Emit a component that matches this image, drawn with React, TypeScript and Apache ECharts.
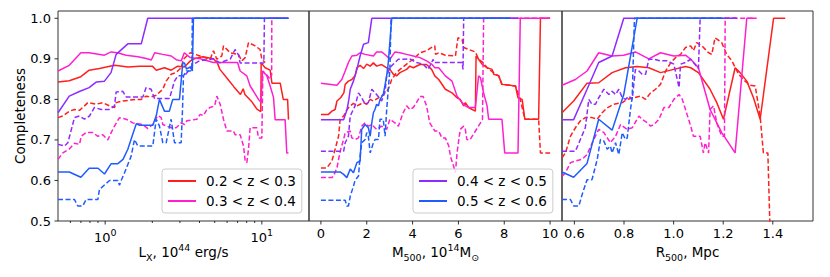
import React, { useEffect, useRef } from 'react';
import * as echarts from 'echarts';

// ---------- labels / ticks ----------
const Z_BINS = ['0.2 < z < 0.3', '0.3 < z < 0.4', '0.4 < z < 0.5', '0.5 < z < 0.6'];
const COLORS = ['#ff1f1f', '#ff1fcf', '#8f2bff', '#1f5cff'];
const Y_TICKS = [0.5, 0.6, 0.7, 0.8, 0.9, 1.0];
const LX_MAJOR_TICKS = [1, 10];
const LX_MINOR_TICKS = [0.6, 0.7, 0.8, 0.9, 2, 3, 4, 5, 6, 7, 8, 9];
const M_TICKS = [0, 2, 4, 6, 8, 10];
const R_TICKS = [0.6, 0.8, 1.0, 1.2, 1.4];

// ---------- panel 1 : L_X ----------
const LX_RED_SOLID = [[0.5,0.843],[0.59,0.846],[0.7,0.856],[0.79,0.872],[0.92,0.876],[1.0,0.879],[1.15,0.884],[1.4,0.88],[1.66,0.882],[2.0,0.882],[2.12,0.872],[2.39,0.878],[2.64,0.872],[2.9,0.882],[3.2,0.88],[3.5,0.895],[3.7,0.9],[4.2,0.905],[4.9,0.9],[5.2,0.89],[5.4,0.874],[6.0,0.852],[6.6,0.832],[7.3,0.812],[7.6,0.826],[7.8,0.812],[8.6,0.795],[9.3,0.776],[9.85,0.77],[9.9,0.89],[10.5,0.878],[11.3,0.872],[11.6,0.84],[13.1,0.84],[13.7,0.8],[14.6,0.8],[14.8,0.75]];
const LX_RED_DASHED = [[0.5,0.755],[0.537,0.759],[0.592,0.771],[0.637,0.775],[0.686,0.773],[0.738,0.784],[0.775,0.792],[0.876,0.788],[0.966,0.792],[1.066,0.784],[1.147,0.78],[1.175,0.792],[1.296,0.796],[1.43,0.798],[1.577,0.8],[1.697,0.8],[1.826,0.808],[1.966,0.806],[2.116,0.81],[2.333,0.825],[2.451,0.845],[2.637,0.862],[2.839,0.866],[3.055,0.878],[3.16,0.899],[3.49,0.915],[4.04,0.907],[4.68,0.899],[4.91,0.92],[5.16,0.899],[5.55,0.907],[5.69,0.932],[6.28,0.915],[7.09,0.911],[7.45,0.895],[7.83,0.903],[8.22,0.94],[9.06,0.932],[9.75,0.923],[10.0,0.899],[10.5,0.891]];
const LX_MAG_SOLID = [[0.5,0.87],[0.59,0.884],[0.7,0.915],[0.79,0.915],[0.99,0.909],[1.09,0.917],[1.2,0.915],[1.36,0.909],[1.62,0.905],[1.83,0.901],[1.97,0.897],[2.07,0.915],[2.33,0.911],[2.64,0.907],[2.84,0.898],[3.06,0.895],[3.2,0.915],[3.49,0.903],[4.04,0.9],[4.91,0.891],[7.0,0.891],[7.27,0.87],[8.02,0.858],[8.42,0.833],[8.85,0.82],[9.52,0.8],[9.9,0.792],[10.1,0.87],[10.76,0.858],[11.3,0.833],[11.87,0.805],[12.16,0.75],[14.08,0.75],[14.43,0.668],[14.79,0.668]];
const LX_MAG_DASHED = [[0.5,0.652],[0.537,0.668],[0.592,0.678],[0.637,0.692],[0.686,0.689],[0.703,0.709],[0.756,0.718],[0.834,0.718],[0.898,0.709],[0.966,0.713],[1.04,0.7],[1.092,0.718],[1.147,0.734],[1.234,0.755],[1.361,0.751],[1.502,0.742],[1.74,0.738],[1.872,0.728],[2.015,0.738],[2.168,0.76],[2.278,0.755],[2.333,0.738],[2.637,0.73],[2.839,0.73],[3.055,0.742],[3.209,0.738],[3.32,0.747],[3.85,0.751],[4.04,0.763],[4.24,0.76],[4.46,0.775],[4.68,0.78],[5.0,0.784],[5.16,0.808],[5.42,0.788],[5.69,0.751],[5.98,0.722],[6.59,0.722],[6.75,0.713],[7.27,0.713],[7.64,0.685],[7.83,0.648],[8.02,0.644],[8.22,0.677],[8.42,0.73],[9.29,0.73],[9.52,0.705],[10.0,0.705],[10.15,0.87],[10.76,0.86],[11.3,0.85],[11.55,0.86],[11.58,1.0],[14.79,1.0]];
const LX_PUR_SOLID = [[0.5,0.767],[0.59,0.808],[0.69,0.82],[0.79,0.829],[0.88,0.843],[0.99,0.845],[1.09,0.866],[1.175,0.911],[1.395,0.937],[1.7,0.937],[1.87,1.0],[14.79,1.0]];
const LX_PUR_DASHED = [[0.5,0.689],[0.55,0.685],[0.578,0.693],[0.637,0.755],[0.686,0.759],[0.738,0.751],[0.794,0.759],[0.855,0.78],[0.943,0.775],[1.066,0.775],[1.147,0.784],[1.175,0.818],[1.296,0.82],[1.361,0.806],[1.74,0.806],[1.826,0.829],[1.966,0.825],[2.065,0.802],[2.574,0.802],[2.77,0.845],[2.909,0.858],[3.209,0.858],[3.4,0.87],[3.6,0.885],[4.0,0.895],[4.9,0.9],[5.4,0.89],[6.3,0.9],[6.75,0.923],[7.09,0.91],[7.27,0.89],[10.3,0.89],[10.39,1.0],[14.79,1.0]];
const LX_BLUE_SOLID = [[0.5,0.621],[0.59,0.621],[0.7,0.608],[0.79,0.63],[0.9,0.63],[0.99,0.616],[1.09,0.641],[1.2,0.641],[1.3,0.652],[1.395,0.677],[1.5,0.714],[1.58,0.74],[1.66,0.736],[2.015,0.736],[2.12,0.76],[2.22,0.8],[2.39,0.771],[2.57,0.771],[2.7,0.8],[2.98,0.8],[3.13,0.89],[3.21,0.89],[3.3,0.875],[3.5,0.88],[3.6,0.87],[3.66,1.0],[14.79,1.0]];
const LX_BLUE_DASHED = [[0.5,0.553],[0.637,0.553],[0.669,0.537],[0.72,0.537],[0.756,0.553],[0.898,0.553],[0.92,0.578],[1.066,0.6],[1.205,0.6],[1.234,0.588],[1.265,0.6],[1.329,0.619],[1.465,0.66],[1.539,0.701],[1.616,0.685],[2.015,0.685],[2.116,0.751],[2.222,0.734],[2.333,0.693],[2.451,0.693],[2.637,0.751],[2.77,0.693],[3.055,0.693],[3.12,0.78],[3.16,0.858],[3.3,0.87],[3.5,0.87],[3.58,0.88],[3.6,1.0],[10.0,1.0]];

// ---------- panel 2 : M500 ----------
const M_RED_SOLID = [[0,0.763],[0.33,0.763],[0.48,0.771],[0.62,0.775],[0.7,0.796],[0.86,0.804],[1.0,0.816],[1.06,0.837],[1.2,0.845],[1.35,0.849],[1.49,0.858],[1.57,0.878],[1.71,0.884],[1.86,0.876],[2.0,0.887],[2.15,0.882],[2.29,0.89],[2.43,0.882],[2.65,0.886],[2.87,0.878],[3.01,0.874],[3.16,0.862],[3.3,0.858],[3.45,0.866],[3.74,0.874],[3.88,0.882],[4.03,0.878],[4.32,0.886],[4.61,0.886],[4.83,0.874],[4.97,0.858],[5.14,0.849],[5.43,0.825],[5.72,0.816],[5.94,0.804],[6.08,0.8],[6.23,0.784],[6.3,0.792],[6.45,0.78],[6.6,0.775],[6.74,0.771],[6.77,0.907],[6.88,0.899],[7.03,0.887],[7.25,0.878],[7.47,0.874],[7.54,0.862],[7.76,0.858],[7.9,0.837],[8.49,0.833],[8.6,0.804],[8.78,0.8],[8.9,0.751],[9.5,0.751],[9.58,1.0],[10.0,1.0]];
const M_RED_DASHED = [[0,0.631],[0.26,0.631],[0.48,0.648],[0.62,0.677],[0.77,0.709],[0.84,0.751],[0.99,0.759],[1.14,0.775],[1.28,0.784],[1.42,0.79],[1.57,0.784],[1.71,0.788],[1.86,0.792],[2.0,0.788],[2.15,0.8],[2.29,0.796],[2.51,0.804],[2.72,0.812],[2.94,0.825],[3.09,0.849],[3.3,0.866],[3.45,0.874],[3.74,0.887],[4.03,0.899],[4.32,0.915],[4.61,0.92],[4.83,0.928],[4.97,0.932],[5.0,0.911],[5.14,0.915],[5.43,0.909],[5.87,0.907],[5.98,0.952],[6.16,0.948],[6.23,0.928],[6.45,0.923],[6.74,0.917],[6.88,0.899],[7.1,0.89],[7.25,0.878],[7.54,0.866],[7.76,0.858],[7.9,0.837],[8.49,0.833],[8.7,0.8],[8.9,0.751],[9.5,0.751],[9.58,0.668],[10.0,0.668]];
const M_MAG_SOLID = [[0,0.84],[0.7,0.835],[0.91,0.849],[1.06,0.87],[1.2,0.891],[1.35,0.907],[1.57,0.909],[1.71,0.915],[1.93,0.911],[2.29,0.907],[2.43,0.917],[2.65,0.917],[2.87,0.907],[3.01,0.899],[3.23,0.917],[3.45,0.915],[3.74,0.911],[4.03,0.907],[4.32,0.903],[4.61,0.895],[4.83,0.887],[4.97,0.878],[5.14,0.878],[5.43,0.858],[5.72,0.845],[5.94,0.808],[6.16,0.792],[6.3,0.784],[6.45,0.78],[6.74,0.78],[6.88,0.858],[6.96,0.854],[7.1,0.816],[7.25,0.784],[7.32,0.751],[7.9,0.751],[8.02,0.668],[8.6,0.668],[8.7,1.0],[10.0,1.0]];
const M_MAG_DASHED = [[0,0.607],[0.48,0.607],[0.55,0.611],[0.7,0.631],[0.84,0.672],[0.99,0.701],[1.06,0.718],[1.28,0.722],[1.35,0.705],[1.49,0.701],[1.64,0.705],[1.78,0.734],[1.93,0.742],[2.07,0.734],[2.22,0.738],[2.43,0.726],[2.65,0.734],[2.87,0.726],[3.01,0.751],[3.23,0.742],[3.38,0.734],[3.59,0.767],[3.74,0.784],[3.88,0.775],[4.03,0.78],[4.17,0.792],[4.32,0.807],[4.46,0.807],[4.61,0.784],[4.75,0.742],[4.97,0.722],[5.14,0.722],[5.28,0.705],[5.43,0.705],[5.58,0.685],[5.65,0.66],[5.79,0.635],[5.87,0.619],[5.94,0.668],[6.08,0.726],[6.23,0.734],[6.3,0.726],[6.37,0.701],[6.5,0.7],[7.05,0.75],[7.1,1.0],[10.0,1.0]];
const M_PUR_SOLID = [[0,0.75],[0.99,0.75],[1.14,0.775],[1.22,0.8],[1.28,0.825],[1.42,0.845],[1.57,0.874],[1.71,0.907],[1.86,0.936],[2.07,0.94],[2.22,1.0],[8.6,1.0]];
const M_PUR_DASHED = [[0,0.672],[0.99,0.672],[1.06,0.693],[1.2,0.709],[1.28,0.759],[1.49,0.784],[1.64,0.816],[1.78,0.804],[1.93,0.788],[2.07,0.792],[2.22,0.825],[2.43,0.812],[2.65,0.796],[2.8,0.82],[2.87,0.858],[3.01,0.878],[3.16,0.887],[3.38,0.899],[3.59,0.899],[3.88,0.9],[4.17,0.891],[4.46,0.887],[4.68,0.874],[4.9,0.899],[4.92,0.891],[6.16,0.891],[6.2,0.874],[6.23,1.0],[8.6,1.0]];
const M_BLUE_SOLID = [[0,0.621],[0.84,0.621],[0.99,0.615],[1.13,0.607],[1.28,0.628],[1.42,0.619],[1.57,0.644],[1.71,0.648],[1.78,0.726],[1.93,0.738],[2.07,0.73],[2.15,0.709],[2.22,0.742],[2.29,0.767],[2.36,0.775],[2.43,0.788],[2.51,0.784],[2.58,0.8],[2.72,0.812],[2.87,0.858],[2.94,0.891],[3.09,1.0],[8.25,1.0]];
const M_BLUE_DASHED = [[0,0.551],[1.06,0.551],[1.13,0.537],[1.2,0.537],[1.28,0.561],[1.42,0.586],[1.49,0.6],[1.64,0.611],[1.71,0.66],[1.78,0.693],[1.93,0.701],[2.0,0.718],[2.07,0.709],[2.15,0.668],[2.29,0.693],[2.36,0.701],[2.51,0.701],[2.58,0.751],[2.72,0.751],[2.8,0.709],[2.87,0.775],[2.94,0.825],[3.01,0.874],[3.06,1.0],[8.25,1.0]];

// ---------- panel 3 : R500 ----------
const R_RED_SOLID = [[0.55,0.767],[0.597,0.796],[0.651,0.84],[0.698,0.841],[0.752,0.866],[0.806,0.878],[0.853,0.881],[0.9,0.878],[0.947,0.866],[1.001,0.874],[1.048,0.881],[1.069,0.878],[1.1,0.866],[1.147,0.825],[1.174,0.792],[1.201,0.751],[1.248,0.878],[1.268,0.866],[1.295,0.845],[1.322,0.804],[1.349,0.751],[1.403,1.0],[1.45,1.0]];
const R_RED_DASHED = [[0.55,0.656],[0.564,0.668],[0.584,0.709],[0.604,0.73],[0.624,0.747],[0.644,0.755],[0.671,0.755],[0.692,0.751],[0.712,0.767],[0.732,0.779],[0.759,0.788],[0.793,0.792],[0.813,0.8],[0.84,0.804],[0.867,0.808],[0.887,0.8],[0.907,0.816],[0.927,0.825],[0.947,0.837],[0.968,0.87],[0.988,0.89],[1.008,0.903],[1.028,0.911],[1.048,0.928],[1.069,0.932],[1.08,0.92],[1.093,0.94],[1.114,0.932],[1.141,0.915],[1.154,0.911],[1.167,0.952],[1.194,0.94],[1.214,0.911],[1.235,0.895],[1.262,0.862],[1.288,0.845],[1.309,0.835],[1.329,0.833],[1.349,0.758],[1.362,0.668],[1.38,0.668],[1.39,0.45]];
const R_MAG_SOLID = [[0.55,0.835],[0.604,0.849],[0.651,0.87],[0.698,0.915],[0.752,0.907],[0.799,0.909],[0.846,0.917],[0.9,0.9],[0.947,0.915],[1.001,0.907],[1.048,0.909],[1.069,0.899],[1.1,0.878],[1.147,0.775],[1.194,0.718],[1.248,0.668],[1.295,1.0],[1.335,1.0]];
const R_MAG_DASHED = [[0.55,0.61],[0.564,0.619],[0.584,0.644],[0.604,0.648],[0.631,0.652],[0.651,0.664],[0.678,0.701],[0.698,0.726],[0.719,0.718],[0.745,0.693],[0.766,0.709],[0.786,0.738],[0.813,0.726],[0.833,0.73],[0.86,0.759],[0.873,0.751],[0.894,0.742],[0.907,0.734],[0.921,0.738],[0.941,0.751],[0.961,0.78],[0.981,0.78],[1.001,0.8],[1.022,0.812],[1.035,0.8],[1.048,0.775],[1.069,0.734],[1.08,0.709],[1.107,0.709],[1.12,0.668],[1.127,0.693],[1.141,0.668],[1.147,0.775],[1.161,0.784],[1.174,0.742],[1.194,0.709],[1.205,0.709],[1.208,1.0],[1.33,1.0]];
const R_PUR_SOLID = [[0.55,0.75],[0.597,0.75],[0.651,0.825],[0.698,0.891],[0.752,0.907],[0.799,1.0],[1.255,1.0]];
const R_PUR_DASHED = [[0.55,0.672],[0.604,0.672],[0.624,0.701],[0.644,0.73],[0.658,0.8],[0.671,0.788],[0.685,0.788],[0.698,0.804],[0.719,0.825],[0.739,0.812],[0.752,0.82],[0.766,0.812],[0.779,0.825],[0.793,0.804],[0.806,0.8],[0.82,0.808],[0.833,0.8],[0.846,0.874],[0.86,0.87],[0.873,0.862],[0.887,0.862],[0.9,0.899],[0.921,0.899],[0.947,0.895],[0.974,0.895],[1.001,0.887],[1.022,0.829],[1.028,0.887],[1.048,0.891],[1.069,0.899],[1.1,0.876],[1.107,1.0],[1.255,1.0]];
const R_BLUE_SOLID = [[0.55,0.621],[0.597,0.608],[0.651,0.642],[0.698,0.751],[0.752,0.724],[0.799,0.812],[0.853,1.0],[1.2,1.0]];
const R_BLUE_DASHED = [[0.55,0.553],[0.584,0.553],[0.597,0.537],[0.618,0.537],[0.631,0.565],[0.651,0.602],[0.671,0.602],[0.692,0.652],[0.705,0.701],[0.719,0.697],[0.732,0.677],[0.745,0.685],[0.752,0.668],[0.766,0.693],[0.779,0.664],[0.793,0.718],[0.806,0.701],[0.813,0.705],[0.826,0.775],[0.833,0.804],[0.842,1.0],[1.2,1.0]];

const PANEL_SOLID = [
  [LX_RED_SOLID, LX_MAG_SOLID, LX_PUR_SOLID, LX_BLUE_SOLID],
  [M_RED_SOLID, M_MAG_SOLID, M_PUR_SOLID, M_BLUE_SOLID],
  [R_RED_SOLID, R_MAG_SOLID, R_PUR_SOLID, R_BLUE_SOLID],
];
const PANEL_DASHED = [
  [LX_RED_DASHED, LX_MAG_DASHED, LX_PUR_DASHED, LX_BLUE_DASHED],
  [M_RED_DASHED, M_MAG_DASHED, M_PUR_DASHED, M_BLUE_DASHED],
  [R_RED_DASHED, R_MAG_DASHED, R_PUR_DASHED, R_BLUE_DASHED],
];

const FONT = 'DejaVu Sans';
const TICK_FS = 13;
const LABEL_FS = 13.5;
const INK = '#1a1a1a';

const Y_MIN = 0.5;
const Y_MAX = 1.018;
const X_RANGES = [
  [0.5, 20],
  [-0.52, 10.52],
  [0.55, 1.562],
];
const GRIDS = [
  { left: 58, top: 11, width: 251, height: 210 },
  { left: 309, top: 11, width: 253, height: 210 },
  { left: 562, top: 11, width: 251, height: 210 },
];

const richLabel = {
  n: { fontSize: LABEL_FS, fontFamily: FONT, fill: '#000', lineHeight: 20 },
  sub: { fontSize: 9.5, fontFamily: FONT, fill: '#000', lineHeight: 8, verticalAlign: 'bottom' },
  sup: { fontSize: 9.5, fontFamily: FONT, fill: '#000', lineHeight: 12, verticalAlign: 'top' },
};

function xTickSeries(idx: number, values: number[], len: number) {
  return {
    type: 'custom',
    xAxisIndex: idx,
    yAxisIndex: idx,
    silent: true,
    z: 20,
    data: values.map((v) => [v, Y_MIN]),
    renderItem: (_p: any, api: any) => {
      const pt = api.coord([api.value(0), api.value(1)]);
      return {
        type: 'line',
        shape: { x1: pt[0], y1: pt[1], x2: pt[0], y2: pt[1] + len },
        style: { stroke: INK, lineWidth: 0.9 },
      };
    },
  };
}

function yTickSeries() {
  return {
    type: 'custom',
    xAxisIndex: 0,
    yAxisIndex: 0,
    silent: true,
    z: 20,
    data: Y_TICKS.map((v) => [X_RANGES[0][0], v]),
    renderItem: (_p: any, api: any) => {
      const pt = api.coord([api.value(0), api.value(1)]);
      return {
        type: 'line',
        shape: { x1: pt[0] - 3.5, y1: pt[1], x2: pt[0], y2: pt[1] },
        style: { stroke: INK, lineWidth: 0.9 },
      };
    },
  };
}

function buildOption() {
  const series: any[] = [];
  for (let p = 0; p < 3; p++) {
    for (let c = 0; c < 4; c++) {
      const common = {
        type: 'line',
        xAxisIndex: p,
        yAxisIndex: p,
        showSymbol: false,
        symbol: 'none',
        silent: true,
        clip: true,
        emphasis: { disabled: true },
        itemStyle: { color: COLORS[c] },
      };
      series.push({
        ...common,
        name: Z_BINS[c],
        data: PANEL_SOLID[p][c],
        lineStyle: { color: COLORS[c], width: 1.5, type: 'solid' },
      });
      series.push({
        ...common,
        name: Z_BINS[c] + ' (dashed)',
        data: PANEL_DASHED[p][c],
        lineStyle: { color: COLORS[c], width: 1.5, type: [5, 2.5] },
      });
    }
  }
  series.push(xTickSeries(0, LX_MAJOR_TICKS, 3.5));
  series.push(xTickSeries(0, LX_MINOR_TICKS, 2));
  series.push(xTickSeries(1, M_TICKS, 3.5));
  series.push(xTickSeries(2, R_TICKS, 3.5));
  series.push(yTickSeries());

  const xAxes = [0, 1, 2].map((i) => {
    const base: any = {
      gridIndex: i,
      min: X_RANGES[i][0],
      max: X_RANGES[i][1],
      axisLine: { show: false },
      axisTick: { show: false },
      splitLine: { show: false },
      axisLabel: {
        show: true,
        color: '#000',
        fontSize: TICK_FS,
        fontFamily: FONT,
        margin: 6,
        showMinLabel: false,
        showMaxLabel: false,
      },
    };
    if (i === 0) {
      base.type = 'log';
      base.logBase = 10;
      base.axisLabel.formatter = (v: number) => {
        if (Math.abs(v - 1) < 1e-6) return '{b|10}{s|0}';
        if (Math.abs(v - 10) < 1e-5) return '{b|10}{s|1}';
        return '';
      };
      base.axisLabel.rich = {
        b: { fontSize: TICK_FS, fontFamily: FONT, color: '#000', lineHeight: 17, verticalAlign: 'bottom' },
        s: { fontSize: 9.5, fontFamily: FONT, color: '#000', lineHeight: 11, verticalAlign: 'top' },
      };
    } else {
      base.type = 'value';
      base.splitNumber = 5;
      base.axisLabel.formatter = (v: number) => (i === 1 ? String(Math.round(v)) : v.toFixed(1));
    }
    return base;
  });

  const yAxes = [0, 1, 2].map((i) => ({
    type: 'value',
    gridIndex: i,
    min: Y_MIN,
    max: Y_MAX,
    interval: 0.1,
    axisLine: { show: false },
    axisTick: { show: false },
    splitLine: { show: false },
    axisLabel: {
      show: i === 0,
      color: '#000',
      fontSize: TICK_FS,
      fontFamily: FONT,
      margin: 7,
      showMaxLabel: false,
      formatter: (v: number) => v.toFixed(1),
    },
  }));

  const legendCommon = {
    orient: 'vertical',
    top: 169,
    padding: [5, 6, 5, 5],
    itemWidth: 28,
    itemHeight: 14,
    itemGap: 6,
    selectedMode: false,
    backgroundColor: 'rgba(255,255,255,0.8)',
    borderColor: '#cccccc',
    borderWidth: 1,
    borderRadius: 3,
    itemStyle: { opacity: 0, borderWidth: 0 },
    textStyle: { color: '#000', fontSize: LABEL_FS, fontFamily: FONT, padding: [0, 0, 0, 5] },
  };

  return {
    animation: false,
    textStyle: { fontFamily: FONT },
    grid: GRIDS.map((g) => ({ ...g, show: true, borderColor: '#333', borderWidth: 1, backgroundColor: 'transparent', containLabel: false })),
    xAxis: xAxes,
    yAxis: yAxes,
    legend: [
      { ...legendCommon, left: 162, data: [Z_BINS[0], Z_BINS[1]] },
      { ...legendCommon, left: 413, data: [Z_BINS[2], Z_BINS[3]] },
    ],
    series,
    graphic: [
      {
        type: 'text',
        x: 20,
        y: 116,
        rotation: Math.PI / 2,
        style: { text: 'Completeness', fontSize: LABEL_FS, fontFamily: FONT, fill: '#000', align: 'center', verticalAlign: 'middle' },
      },
      {
        type: 'text',
        x: 183.5,
        y: 252,
        style: { text: '{n|L}{sub|X}{n|, 10}{sup|44}{n| erg/s}', rich: richLabel, align: 'center', verticalAlign: 'middle' },
      },
      {
        type: 'text',
        x: 435.5,
        y: 252,
        style: { text: '{n|M}{sub|500}{n|, 10}{sup|14}{n|M}{sub|\u2299}', rich: richLabel, align: 'center', verticalAlign: 'middle' },
      },
      {
        type: 'text',
        x: 687.5,
        y: 252,
        style: { text: '{n|R}{sub|500}{n|, Mpc}', rich: richLabel, align: 'center', verticalAlign: 'middle' },
      },
    ],
  };
}

export default function App() {
  const ref = useRef<HTMLDivElement>(null);
  useEffect(() => {
    document.body.style.margin = '0';
    if (!ref.current) return;
    const chart = echarts.init(ref.current, undefined, { renderer: 'svg' });
    chart.setOption(buildOption() as any);
    return () => chart.dispose();
  }, []);
  return <div ref={ref} style={{ width: 830, height: 277, background: '#fff' }} />;
}
